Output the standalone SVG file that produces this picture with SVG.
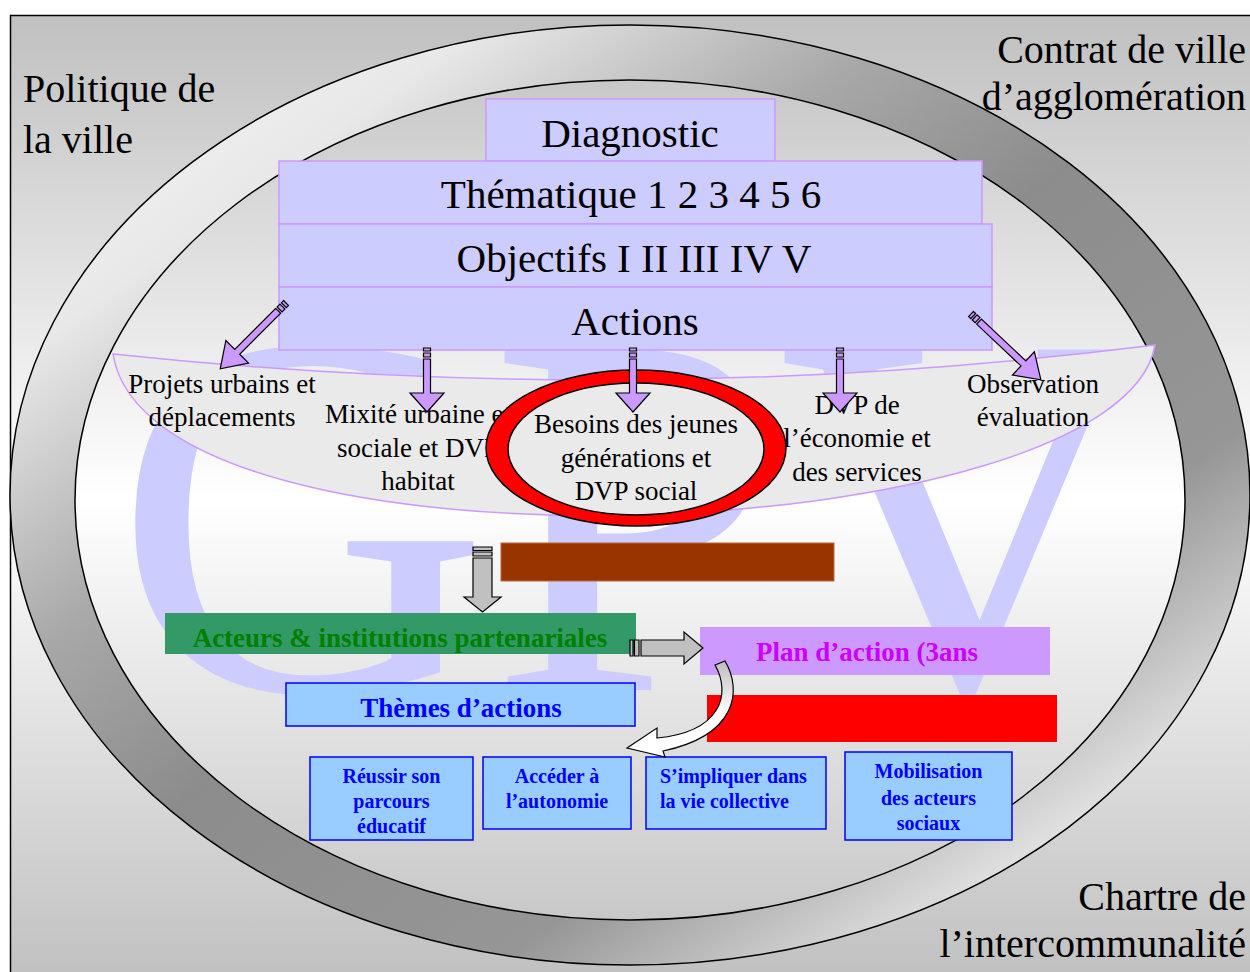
<svg xmlns="http://www.w3.org/2000/svg" width="1250" height="972" viewBox="0 0 1250 972">
<defs>
  <linearGradient id="bgGrad" x1="0" y1="0" x2="0" y2="1">
    <stop offset="0" stop-color="#c0c0c0"/>
    <stop offset="0.5" stop-color="#ffffff"/>
    <stop offset="1" stop-color="#c0c0c0"/>
  </linearGradient>
  <linearGradient id="ringGrad" x1="0.1" y1="0.05" x2="1" y2="1">
    <stop offset="0" stop-color="#f4f4f4"/>
    <stop offset="0.12" stop-color="#e8e8e8"/>
    <stop offset="0.3" stop-color="#a8a8a8"/>
    <stop offset="0.45" stop-color="#8c8c8c"/>
    <stop offset="0.68" stop-color="#969696"/>
    <stop offset="0.85" stop-color="#e4e4e4"/>
    <stop offset="1" stop-color="#f0f0f0"/>
  </linearGradient>
  <linearGradient id="curveGrad" x1="0" y1="0" x2="0" y2="1">
    <stop offset="0" stop-color="#bdbdbd"/>
    <stop offset="0.55" stop-color="#ffffff"/>
    <stop offset="1" stop-color="#ffffff"/>
  </linearGradient>
  <style>
    .serif { font-family: "Liberation Serif", "Times New Roman", serif; }
    .corner { font-family: "Liberation Serif", "Times New Roman", serif; font-size: 40px; fill: #000; }
    .cornerR { font-family: "Liberation Serif", "Times New Roman", serif; font-size: 40px; fill: #000; text-anchor: end; }
    .topbox { fill: #ccccff; stroke: #cc99ff; stroke-width: 1.5; }
    .toptxt { font-family: "Liberation Serif", "Times New Roman", serif; font-size: 41px; fill: #000; text-anchor: middle; }
    .lbl { font-family: "Liberation Serif", "Times New Roman", serif; font-size: 27px; fill: #000; text-anchor: middle; }
    .parr { fill: #cc99ff; stroke: #000; stroke-width: 1.2; stroke-linejoin: miter; }
    .garr { fill: #c0c0c0; stroke: #000; stroke-width: 1.2; }
    .bold27 { font-family: "Liberation Serif", "Times New Roman", serif; font-size: 27px; font-weight: bold; text-anchor: middle; }
    .tbox { fill: #99ccff; stroke: #0000ff; stroke-width: 1.5; }
    .ttxt { font-family: "Liberation Serif", "Times New Roman", serif; font-size: 20px; font-weight: bold; fill: #0000ff; text-anchor: middle; }
    .ttxtL { font-family: "Liberation Serif", "Times New Roman", serif; font-size: 20px; font-weight: bold; fill: #0000ff; text-anchor: start; }
  </style>
</defs>

<g id="background">
  <rect x="10.5" y="15.5" width="1250" height="965" fill="url(#bgGrad)" stroke="#000" stroke-width="1.5"/>
</g>

<g id="watermark">
  <text x="114" y="690" class="serif" font-size="520" fill="#ccccff">GPV</text>
</g>

<g id="ring">
  <path d="M10,495 a620,470 0 1,0 1240,0 a620,470 0 1,0 -1240,0 Z M75,500 a555,420 0 1,0 1110,0 a555,420 0 1,0 -1110,0 Z" fill="url(#ringGrad)" fill-rule="evenodd" stroke="#000" stroke-width="1.5"/>
</g>

<g id="corner-labels">
  <text class="corner" x="23" y="102">Politique de</text>
  <text class="corner" x="23" y="153">la ville</text>
  <text class="cornerR" x="1246" y="63">Contrat de ville</text>
  <text class="cornerR" x="1246" y="110">d’agglomération</text>
  <text class="cornerR" x="1246" y="910">Chartre de</text>
  <text class="cornerR" x="1246" y="957">l’intercommunalité</text>
</g>

<g id="crescent">
  <path d="M113,354 Q640,410 1155,345 C1120,550 150,590 113,354 Z" fill="#eaeaea" stroke="#cc99ff" stroke-width="1.5"/>
</g>

<g id="theme-labels">
  <g id="label-projets">
    <text class="lbl" x="222" y="393">Projets urbains et</text>
    <text class="lbl" x="222" y="426">déplacements</text>
  </g>
  <g id="label-mixite">
    <text class="lbl" x="418" y="423">Mixité urbaine et</text>
    <text class="lbl" x="418" y="457">sociale et DVP</text>
    <text class="lbl" x="418" y="490">habitat</text>
  </g>
  <g id="label-dvp-eco">
    <text class="lbl" x="857" y="414">DVP de</text>
    <text class="lbl" x="857" y="447">l’économie et</text>
    <text class="lbl" x="857" y="481">des services</text>
  </g>
  <g id="label-observation">
    <text class="lbl" x="1033" y="393">Observation</text>
    <text class="lbl" x="1033" y="426">évaluation</text>
  </g>
</g>

<g id="highlight-besoins">
  <path d="M486,448 a150,78 0 1,0 300,0 a150,78 0 1,0 -300,0 Z M508,449 a128,66 0 1,0 256,0 a128,66 0 1,0 -256,0 Z" fill="#ff0000" fill-rule="evenodd" stroke="#000" stroke-width="1.5"/>
  <text class="lbl" x="636" y="433">Besoins des jeunes</text>
  <text class="lbl" x="636" y="467">générations et</text>
  <text class="lbl" x="636" y="500">DVP social</text>
</g>

<g id="diagnostic">
  <rect class="topbox" x="486" y="99" width="289" height="62"/>
  <text class="toptxt" x="630" y="147">Diagnostic</text>
</g>
<g id="thematique">
  <rect class="topbox" x="279" y="161" width="703" height="63"/>
  <text class="toptxt" x="631" y="208">Thématique 1 2 3 4 5 6</text>
</g>
<g id="objectifs">
  <rect class="topbox" x="279" y="224" width="713" height="63"/>
  <text class="toptxt" x="634" y="272">Objectifs I II III IV V</text>
</g>
<g id="actions">
  <rect class="topbox" x="279" y="287" width="713" height="63"/>
  <text class="toptxt" x="635" y="335">Actions</text>
</g>

<g id="brown-bar">
  <rect x="501" y="543" width="333" height="38" fill="#993300" stroke="#b86a40" stroke-width="1"/>
</g>

<g id="acteurs">
  <rect x="165" y="613" width="471" height="41" fill="#339966"/>
  <text class="bold27" x="400" y="647" fill="#008000">Acteurs &amp; institutions partenariales</text>
</g>

<g id="plan-action">
  <rect x="700" y="627" width="350" height="48" fill="#cc99ff"/>
  <text class="bold27" x="867" y="661" fill="#cc00ff">Plan d’action (3ans</text>
</g>

<g id="red-bar">
  <rect x="707" y="695" width="350" height="47" fill="#ff0000"/>
</g>

<g id="themes-actions">
  <rect class="tbox" x="286" y="683" width="349" height="43"/>
  <text class="bold27" x="461" y="717" fill="#0000ff">Thèmes d’actions</text>
</g>

<g id="reussir">
  <rect class="tbox" x="310" y="757" width="163" height="83"/>
  <text class="ttxt" x="391.5" y="783">Réussir son</text>
  <text class="ttxt" x="391.5" y="808">parcours</text>
  <text class="ttxt" x="391.5" y="833">éducatif</text>
</g>
<g id="acceder">
  <rect class="tbox" x="483" y="757" width="148" height="72"/>
  <text class="ttxt" x="557" y="783">Accéder à</text>
  <text class="ttxt" x="557" y="808">l’autonomie</text>
</g>
<g id="impliquer">
  <rect class="tbox" x="646" y="757" width="180" height="72"/>
  <text class="ttxtL" x="660" y="783">S’impliquer dans</text>
  <text class="ttxtL" x="660" y="808">la vie collective</text>
</g>
<g id="mobilisation">
  <rect class="tbox" x="845" y="752" width="167" height="88"/>
  <text class="ttxt" x="928.5" y="778">Mobilisation</text>
  <text class="ttxt" x="928.5" y="805">des acteurs</text>
  <text class="ttxt" x="928.5" y="830">sociaux</text>
</g>

<g id="connectors">
  <g transform="translate(427,348)">
    <path class="parr" d="M-3.5,0 h7 v3 h-7 z M-3.5,5 h7 v4 h-7 z M-3.5,11 h7 v34 h13.5 L0,64 L-17,45 h13.5 z"/>
  </g>
  <g transform="translate(633,348)">
    <path class="parr" d="M-3.5,0 h7 v3 h-7 z M-3.5,5 h7 v4 h-7 z M-3.5,11 h7 v34 h13.5 L0,64 L-17,45 h13.5 z"/>
  </g>
  <g transform="translate(840,348)">
    <path class="parr" d="M-3.5,0 h7 v3 h-7 z M-3.5,5 h7 v4 h-7 z M-3.5,11 h7 v34 h13.5 L0,64 L-17,45 h13.5 z"/>
  </g>
  <g transform="translate(286,303) rotate(45)">
    <path class="parr" d="M-3.5,0 h7 v3 h-7 z M-3.5,5 h7 v4 h-7 z M-3.5,11 h7 v58 h12.5 L0,93 L-16,69 h12.5 z"/>
  </g>
  <g transform="translate(971,314) rotate(-46.7)">
    <path class="parr" d="M-3.5,0 h7 v3 h-7 z M-3.5,5 h7 v4 h-7 z M-3.5,11 h7 v61 h12.5 L0,96 L-16,72 h12.5 z"/>
  </g>
  <g transform="translate(482.5,547)">
    <path class="garr" d="M-9.5,0 h19 v3.5 h-19 z M-9.5,5 h19 v4 h-19 z M-9.5,11 h19 v39 h9 L0,65 L-18.5,50 h9 z"/>
  </g>
  <g transform="translate(630,648)">
    <path class="garr" d="M0,-8 h3 v16 h-3 z M4.5,-8 h4.5 v16 h-4.5 z M11,-8 h43 v-8 L73,0 L54,16 v-8 h-43 z"/>
  </g>
  <path d="M725,661 C742,690 738,735 663,751 L665,757 L627,748 L657,728 L657,738 C720,732 732,695 715,665 Z" fill="url(#curveGrad)" stroke="#000" stroke-width="1.2"/>
</g>
</svg>
